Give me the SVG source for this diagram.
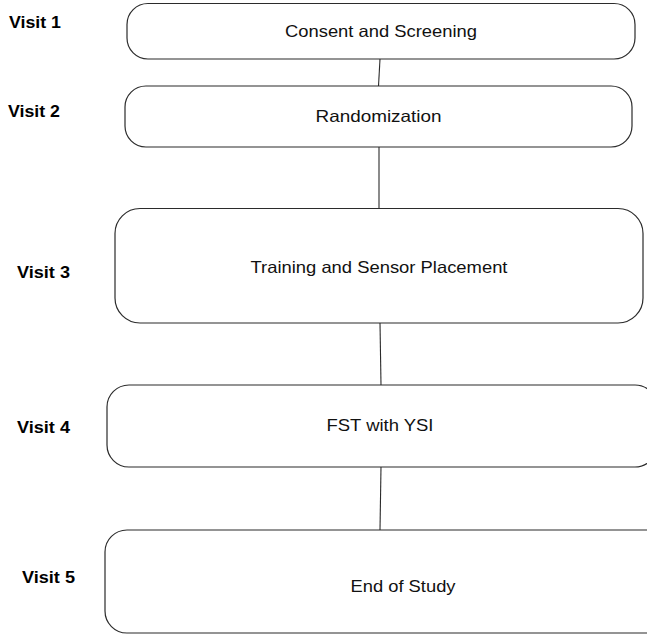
<svg xmlns="http://www.w3.org/2000/svg" width="647" height="634" viewBox="0 0 647 634">
<style>
.box{fill:#ffffff;stroke:#2b2b2b;stroke-width:1.2}
.lbl{font-family:"Liberation Sans",Arial,sans-serif;font-size:16.5px;font-weight:bold;fill:#000}
.txt{font-family:"Liberation Sans",Arial,sans-serif;font-size:16.5px;fill:#111;text-anchor:middle}
.conn line{stroke:#2b2b2b;stroke-width:1.1}
</style>
<rect width="647" height="634" fill="#ffffff"/>
<g id="connectors" class="conn">
<line x1="380" y1="59" x2="378.5" y2="86"/>
<line x1="379" y1="147" x2="379" y2="208"/>
<line x1="380" y1="323" x2="381" y2="385"/>
<line x1="381" y1="467" x2="380" y2="530"/>
</g>
<g id="visit1"><text class="lbl" x="9" y="28" textLength="52" lengthAdjust="spacingAndGlyphs">Visit 1</text></g>
<g id="visit2"><text class="lbl" x="8" y="117" textLength="52" lengthAdjust="spacingAndGlyphs">Visit 2</text></g>
<g id="visit3"><text class="lbl" x="17" y="278" textLength="53" lengthAdjust="spacingAndGlyphs">Visit 3</text></g>
<g id="visit4"><text class="lbl" x="17" y="433" textLength="53" lengthAdjust="spacingAndGlyphs">Visit 4</text></g>
<g id="visit5"><text class="lbl" x="22" y="583" textLength="53" lengthAdjust="spacingAndGlyphs">Visit 5</text></g>
<g id="consent">
<rect class="box" x="127" y="3.5" width="508" height="55.5" rx="21" ry="21"/>
<text class="txt" x="381" y="37" textLength="192" lengthAdjust="spacingAndGlyphs">Consent and Screening</text>
</g>
<g id="randomization">
<rect class="box" x="125" y="86" width="507" height="61" rx="21" ry="21"/>
<text class="txt" x="378.5" y="122" textLength="126" lengthAdjust="spacingAndGlyphs">Randomization</text>
</g>
<g id="training">
<rect class="box" x="115" y="208.5" width="528" height="114.5" rx="25" ry="25"/>
<text class="txt" x="379" y="273" textLength="257" lengthAdjust="spacingAndGlyphs">Training and Sensor Placement</text>
</g>
<g id="fst">
<rect class="box" x="107" y="385" width="550" height="82" rx="22" ry="22"/>
<text class="txt" x="380" y="431" textLength="107" lengthAdjust="spacingAndGlyphs">FST with YSI</text>
</g>
<g id="end">
<rect class="box" x="105" y="530" width="596" height="103" rx="22" ry="22"/>
<text class="txt" x="403" y="592" textLength="105" lengthAdjust="spacingAndGlyphs">End of Study</text>
</g>
</svg>
